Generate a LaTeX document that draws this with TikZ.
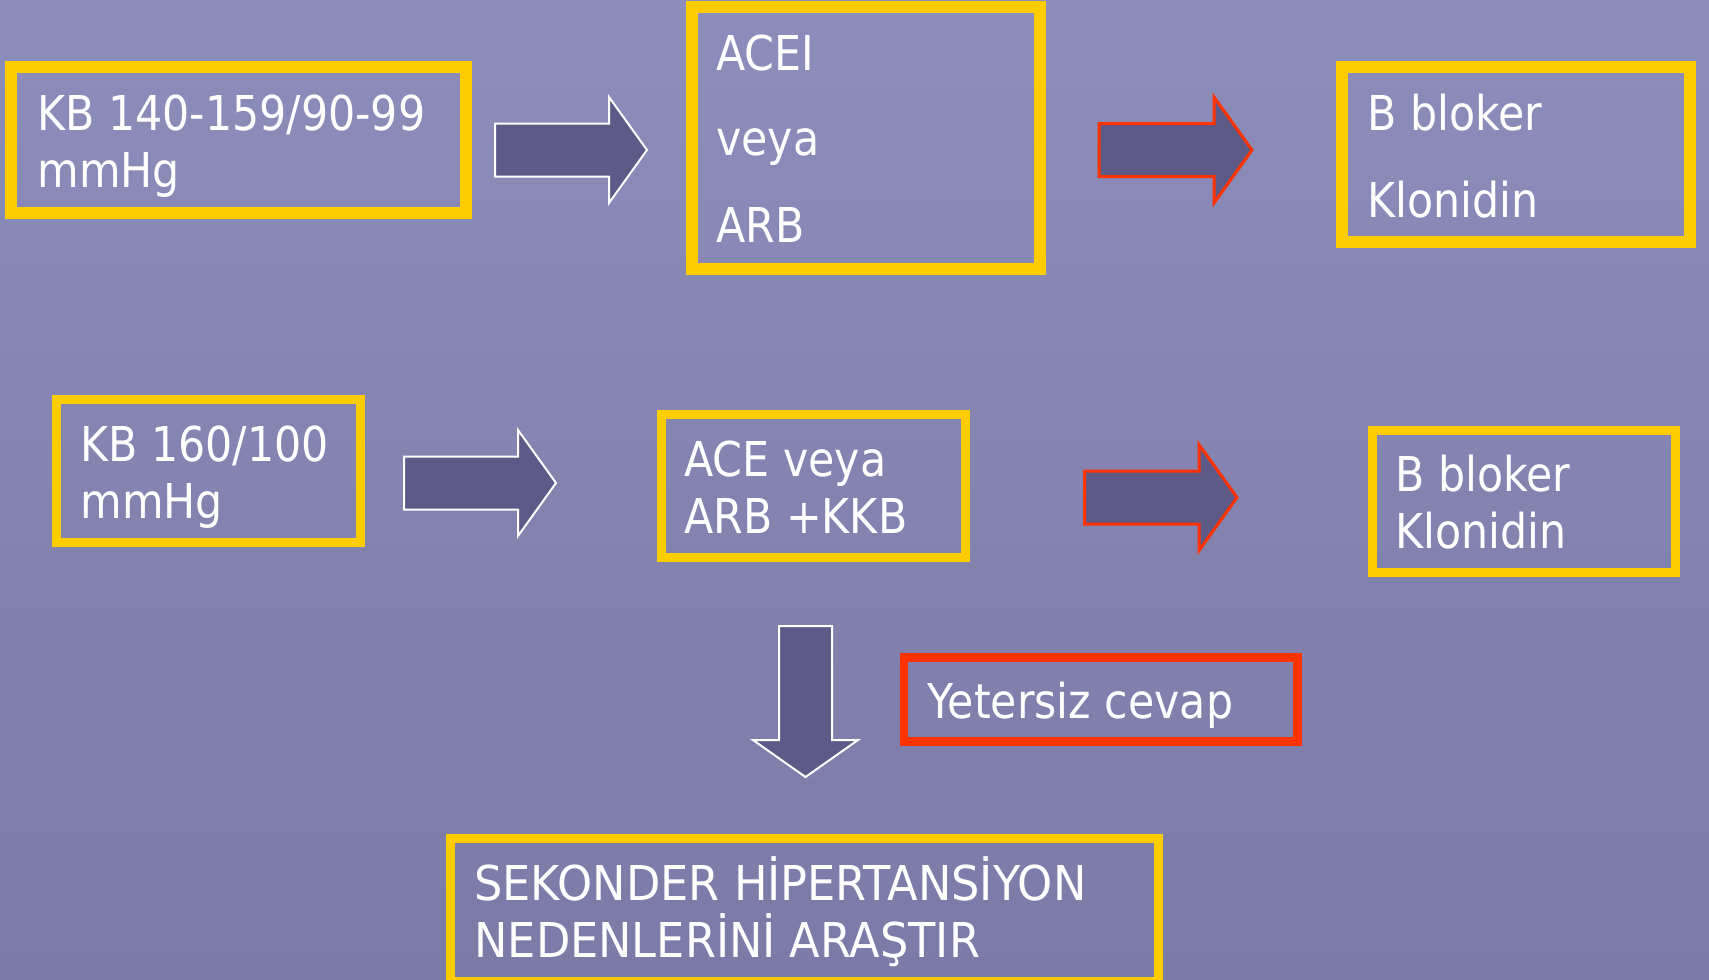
\documentclass[tikz,border=0pt]{standalone}
\usepackage{fontspec}
\setmainfont{DejaVu Sans}[FakeStretch=0.89]
\newfontfamily\widerfont{DejaVu Sans}[FakeStretch=0.93]
\definecolor{bgtop}{RGB}{141,141,187}
\definecolor{bgbot}{RGB}{124,122,166}
\definecolor{arrfill}{RGB}{94,90,135}
\definecolor{boxyellow}{RGB}{255,204,0}
\definecolor{boxred}{RGB}{255,51,0}
\newcommand\myRArrow[5]{%
  \draw[#1] (#2,{#5-26.5}) -- (#3,{#5-26.5}) -- (#3,{#5-53}) -- (#4,#5)
    -- (#3,{#5+53}) -- (#3,{#5+26.5}) -- (#2,{#5+26.5}) -- cycle;}
\begin{document}
\begin{tikzpicture}[x=0.5pt,y=-0.5pt,
  ybox/.style={draw=boxyellow,line width=6pt},
  ybox thin/.style={draw=boxyellow,line width=4.5pt},
  rbox/.style={draw=boxred,line width=4.25pt},
  warrow/.style={fill=arrfill,draw=white,line width=1pt,line join=miter},
  rarrow/.style={fill=arrfill,draw=boxred,line width=1.5pt,line join=miter},
  txt/.style={anchor=base west,inner sep=0pt,text=white,
    font=\fontsize{24pt}{28.5pt}\selectfont},
  wtxt/.style={txt,font=\widerfont\fontsize{24pt}{28.5pt}\selectfont}]
\useasboundingbox (0,0) rectangle (1709,980);
\shade[top color=bgtop,bottom color=bgbot] (0,0) rectangle (1709,980);

% boxes
\draw[ybox] (11,66.5) rectangle (465.5,212.5);
\draw[ybox] (692,7) rectangle (1040,269);
\draw[ybox] (1342,67) rectangle (1690,242);
\draw[ybox thin] (56.5,399.5) rectangle (360,542.5);
\draw[ybox thin] (661.5,414.5) rectangle (965,557.5);
\draw[ybox thin] (1372.5,430.5) rectangle (1675,572.5);
\draw[ybox thin] (450.5,838.5) rectangle (1158.5,981.5);
\draw[rbox] (904,657.5) rectangle (1297.5,741.5);

% arrows
\myRArrow{warrow}{495}{609}{647}{150}
\myRArrow{rarrow}{1099}{1214}{1252}{150}
\myRArrow{warrow}{404}{518}{556}{483}
\myRArrow{rarrow}{1084.5}{1199}{1237}{497.5}
\draw[warrow] (779,626) -- (832,626) -- (832,740) -- (858,740) -- (805.5,777)
  -- (753,740) -- (779,740) -- cycle;

% texts
\node[txt] (t1a) at (37,130) {KB 140-159/90-99};
\node[txt] (t1b) at (37,187) {mmHg};
\node[txt] (t2a) at (716,70) {ACEI};
\node[txt] (t2b) at (716,155) {veya};
\node[txt] (t2c) at (716,242) {ARB};
\node[txt] (t3a) at (1367,130) {B bloker};
\node[txt] (t3b) at (1367,217) {Klonidin};
\node[txt] (t4a) at (80,461) {KB 160/100};
\node[txt] (t4b) at (80,518) {mmHg};
\node[txt] (t5a) at (684,476) {ACE veya};
\node[txt] (t5b) at (684,533) {ARB +KKB};
\node[txt] (t6a) at (1395,491) {B bloker};
\node[txt] (t6b) at (1395,548) {Klonidin};
\node[txt] (t7) at (927,718) {Yetersiz cevap};
\node[wtxt] (t8a) at (474,900) {SEKONDER HİPERTANSİYON};
\node[wtxt] (t8b) at (474,957) {NEDENLERİNİ ARAŞTIR};
\end{tikzpicture}
\end{document}
